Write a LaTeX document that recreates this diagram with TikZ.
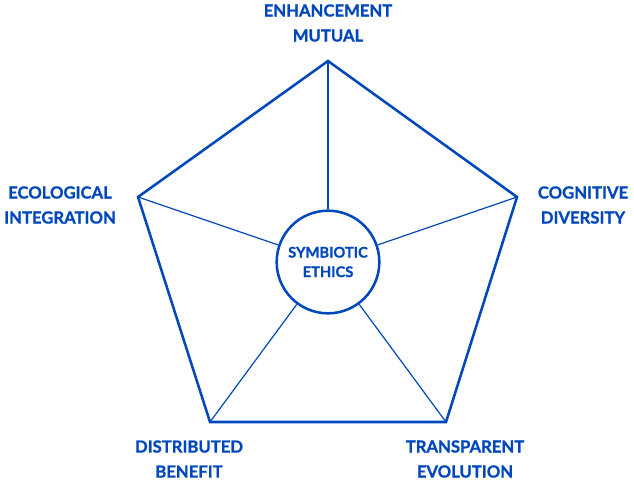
\documentclass[tikz,border=0pt]{standalone}
\usepackage{fontspec}
\setmainfont{Lato}[BoldFeatures={FakeBold=1}]
\usetikzlibrary{positioning}
\definecolor{symblue}{RGB}{0,71,187}

\begin{document}
\begin{tikzpicture}[x=0.75pt, y=-0.75pt,
  lbl/.style = {text=symblue, align=center, inner sep=0pt,
                font=\bfseries\fontsize{12.5}{18.75}\selectfont},
  rim/.style = {draw=symblue, line width=1.9pt, line join=miter},
  spoke/.style = {draw=symblue, line width=0.9pt}]
\useasboundingbox (0,0) rectangle (634,485);
\coordinate (apex) at (328,61);
\coordinate (east) at (517,197);
\coordinate (se) at (446,422);
\coordinate (sw) at (210,422);
\coordinate (west) at (138,197);
\node[circle, draw=symblue, line width=1.9pt, minimum size=77pt, inner sep=0pt,
      text=symblue, align=center, font=\bfseries\fontsize{11}{14.6}\selectfont] (core) at (328,262) {SYMBIOTIC\\ETHICS};
\draw[rim] (apex) -- (east) -- (se) -- (sw) -- (west) -- cycle;
\draw[spoke] (core) -- (apex);
\draw[spoke] (core) -- (east);
\draw[spoke] (core) -- (se);
\draw[spoke] (core) -- (sw);
\draw[spoke] (core) -- (west);
\node[lbl] (l-apex) at (328,23) {ENHANCEMENT\\MUTUAL};
\node[lbl] (l-west) at (60,205) {ECOLOGICAL\\INTEGRATION};
\node[lbl] (l-east) at (583,205) {COGNITIVE\\DIVERSITY};
\node[lbl] (l-sw) at (189,459) {DISTRIBUTED\\BENEFIT};
\node[lbl] (l-se) at (465,459) {TRANSPARENT\\EVOLUTION};
\end{tikzpicture}
\end{document}
